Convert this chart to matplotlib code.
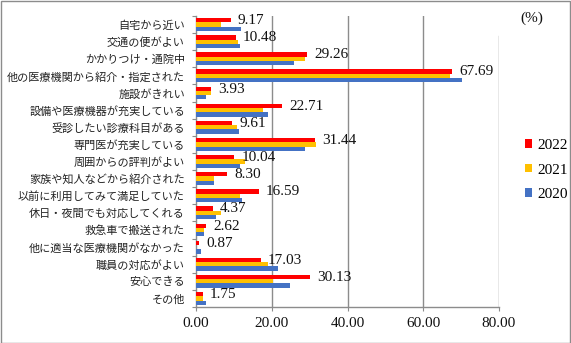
import numpy as np
import matplotlib
matplotlib.use("Agg")
import matplotlib.pyplot as plt
from matplotlib.patches import Patch, Rectangle

categories = [
    "自宅から近い", "交通の便がよい", "かかりつけ・通院中",
    "他の医療機関から紹介・指定された", "施設がきれい",
    "設備や医療機器が充実している", "受診したい診療科目がある",
    "専門医が充実している", "周囲からの評判がよい",
    "家族や知人などから紹介された", "以前に利用してみて満足していた",
    "休日・夜間でも対応してくれる", "救急車で搬送された",
    "他に適当な医療機関がなかった", "職員の対応がよい", "安心できる", "その他",
]
v2022 = [9.17, 10.48, 29.26, 67.69, 3.93, 22.71, 9.61, 31.44, 10.04, 8.30,
         16.59, 4.37, 2.62, 0.87, 17.03, 30.13, 1.75]
v2021 = [6.6, 11.1, 28.8, 67.0, 3.9, 17.7, 10.7, 31.6, 12.9, 4.7,
         11.6, 6.5, 2.0, 0.0, 19.0, 20.3, 1.8]
v2020 = [12.0, 11.6, 25.9, 70.2, 2.6, 19.0, 11.3, 28.9, 11.5, 4.7,
         12.1, 5.2, 2.0, 1.3, 21.6, 24.8, 2.6]
series_names = ["2022", "2021", "2020"]
xticks = [0, 20, 40, 60, 80]

C22, C21, C20 = "#FF0000", "#FFC000", "#4472C4"
GRID = "#8c8c8c"
SERIF = ["Liberation Serif", "Noto Sans CJK JP"]
JP = ["Noto Sans CJK JP", "DejaVu Sans"]

W, H = 571, 343
fig = plt.figure(figsize=(W / 100, H / 100), dpi=100)
fig.patch.set_facecolor("white")
fig.patches.append(Rectangle((0.5 / W, 0.5 / H), 1 - 1.5 / W, 1 - 1.5 / H,
                             transform=fig.transFigure, fill=False,
                             edgecolor="#8c8c8c", lw=1.0))

left, right, top, bottom = 196, 499, 16, 307
ax = fig.add_axes([left / W, 1 - bottom / H, (right - left) / W, (bottom - top) / H])

n = len(categories)
y = np.arange(n)
h = 0.25
ax.barh(y - h, v2022, height=h, color=C22, zorder=3)
ax.barh(y, v2021, height=h, color=C21, zorder=3)
ax.barh(y + h, v2020, height=h, color=C20, zorder=3)

for yi, v in zip(y, v2022):
    ax.text(v + 1.9, yi - h + 0.02, f"{v:.2f}", ha="left", va="center",
            fontsize=11, family=SERIF, color="#111111", zorder=4)

ax.set_xlim(0, 80)
ax.set_ylim(n - 0.5, -0.5)

# vertical gridlines; the last one stops short under the unit label
for xv in xticks[1:]:
    ymax = 0.931 if xv == 80 else 1.0
    ax.axvline(xv, ymin=0, ymax=ymax, color=GRID, lw=1.0, zorder=1)

for s in ["top", "right"]:
    ax.spines[s].set_visible(False)
for s in ["left", "bottom"]:
    ax.spines[s].set_color(GRID)
    ax.spines[s].set_linewidth(1.0)

ax.set_xticks(xticks)
ax.set_xticklabels([f"{t:.2f}" for t in xticks], family=SERIF, fontsize=11)
ax.tick_params(axis="x", length=3, color=GRID, pad=4, colors="#111111")
ax.tick_params(axis="x", color=GRID)

ax.set_yticks(np.arange(-0.5, n, 1.0))
ax.set_yticklabels([])
ax.tick_params(axis="y", which="major", length=3, color=GRID, direction="out")
ax.set_yticks(y, minor=True)
ax.set_yticklabels(categories, minor=True, family=JP, fontsize=8, color="#222222")
ax.tick_params(axis="y", which="minor", length=0, pad=8)

fig.text(532 / W, 1 - 18 / H, "(%)", ha="center", va="center",
         fontsize=11, family=SERIF, color="#111111")

handles = [Patch(facecolor=c, edgecolor="none") for c in (C22, C21, C20)]
leg = fig.legend(handles, series_names, loc="center left",
                 bbox_to_anchor=(511 / W, 1 - 170 / H), frameon=False,
                 handlelength=0.5, handleheight=0.5, handletextpad=0.3,
                 labelspacing=0.75, prop={"family": SERIF, "size": 11})

fig.savefig("out.png", dpi=100, facecolor="white")
